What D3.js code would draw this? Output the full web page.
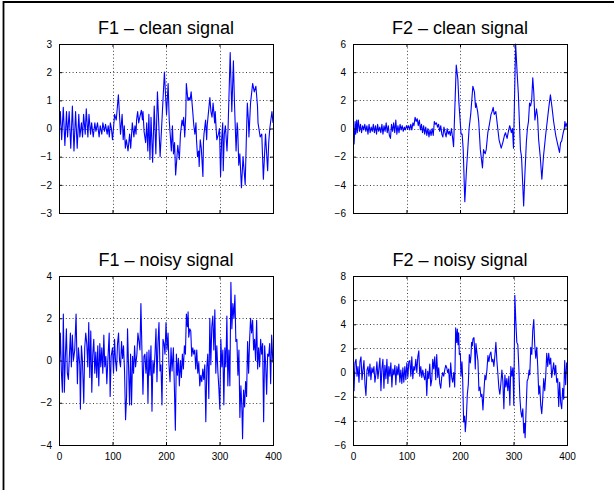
<!DOCTYPE html>
<html>
<head>
<meta charset="utf-8">
<script src="https://cdn.jsdelivr.net/npm/d3@7"></script>
<style>
html,body{margin:0;padding:0;background:#fff;}
svg{display:block;}
text{font-family:"Liberation Sans",Arial,Helvetica,sans-serif;fill:#000;}
</style>
</head>
<body>
<svg id="fig" width="614" height="490"></svg>
<script>
// ---------- data (sample index, value) ----------
const xTicks = [0, 100, 200, 300, 400];
const titles = ["F1 \u2013 clean signal", "F2 \u2013 clean signal", "F1 \u2013 noisy signal", "F2 \u2013 noisy signal"];
const yDomains = [[-3, 3], [-6, 6], [-4, 4], [-6, 8]];
const yTickSets = [[-3,-2,-1,0,1,2,3], [-6,-4,-2,0,2,4,6], [-4,-2,0,2,4], [-6,-4,-2,0,2,4,6,8]];

const f1Clean = [[0,-0.3],[2.5,0.6],[5,-0.4],[8,0.75],[11,-0.6],[14,0.6],[16,-0.3],[19,0.6],[22,-0.7],[25,0.8],[28,-0.8],[31,0.6],[34,-0.7],[37,0.5],[39,-0.3],[42,0.2],[44,-0.3],[46,0.5],[49,-0.2],[51,0.7],[54,-0.3],[56,0.5],[59,-0.2],[61,0.2],[64,-0.3],[67,0.2],[69,-0.1],[72,0.2],[75,-0.3],[77,0.1],[80,-0.2],[82,0.2],[85,-0.1],[87,0.15],[90,-0.2],[92,0.1],[94,-0.3],[96,0.2],[98,0.0],[100,-0.4],[104,0.5],[107,0.3],[111,1.2],[115,-0.2],[118,0.5],[120,-0.4],[122,0.1],[124,-0.7],[126,-0.4],[129,-0.8],[132,-0.2],[134,-0.7],[137,0.2],[140,-0.3],[142,0.1],[144,-0.2],[145,0.3],[147,0.6],[149,0.2],[151,0.4],[154,0.65],[156,0.3],[157,0.6],[159,-0.1],[162,-0.5],[164,0.2],[166,-0.8],[168,0.5],[170,-1.1],[172,0.4],[175,-1.2],[178,0.8],[181,-0.9],[184,1.3],[189,-1.0],[193,0.5],[197,2.0],[201,0.5],[204,1.6],[206,0.3],[210,-0.8],[212,0.1],[214,-0.9],[216,-0.5],[218,-1.65],[222,-0.6],[225,-1.1],[227,-0.2],[230,0.3],[232,0.1],[233,0.4],[235,-0.3],[237,0.5],[238,1.6],[241,1.0],[243,1.1],[245,1.0],[247,1.3],[250,0.6],[252,0.1],[254,-0.2],[256,0.2],[257,-0.4],[259,-1.0],[261,-0.8],[262,-1.35],[264,-0.4],[266,-0.7],[269,-1.7],[270,-0.5],[271,-0.2],[274,0.3],[276,-0.4],[277,0.1],[279,0.5],[282,1.1],[284,0.6],[286,0.4],[288,0.9],[291,0.2],[292,0.6],[294,-0.1],[295,-0.4],[298,-0.2],[300,0.0],[302,-1.7],[304,-0.4],[306,0.2],[307,-1.5],[309,-0.2],[311,0.1],[314,-0.8],[316,0.0],[320,2.7],[323,0.6],[326,2.4],[328,0.9],[331,-0.8],[333,0.2],[334,0.0],[336,-1.3],[338,-0.9],[341,-2.1],[344,-1.0],[348,-2.0],[350,-0.5],[352,0.9],[354,0.3],[355,-0.3],[358,0.9],[362,1.6],[365,1.3],[368,1.5],[371,0.8],[372,0.2],[376,-0.3],[379,-0.2],[382,-1.8],[386,-0.2],[390,-1.5],[392,-0.5],[394,0.0],[398,0.6],[400,0.2]];

const f2Clean = [[0,0.8],[2,-1.1],[4,0.5],[5,-0.4],[7,0.6],[8,-0.3],[10,0.6],[12,-0.2],[14,0.3],[16,-0.3],[18,0.2],[20,-0.1],[22,0.3],[24,-0.2],[26,0.2],[28,-0.4],[30,0.3],[32,-0.3],[34,0.1],[36,-0.2],[38,0.3],[40,-0.3],[42,0.2],[44,-0.4],[46,0.3],[48,-0.2],[50,0.1],[52,-0.3],[54,0.3],[56,-0.4],[58,0.2],[60,-0.2],[62,0.4],[64,-0.3],[66,0.2],[68,-0.5],[70,-0.7],[72,0.3],[74,-0.2],[76,0.4],[78,-0.3],[80,0.6],[82,-0.4],[84,0.2],[86,-0.3],[88,0.3],[90,-0.1],[92,0.2],[94,-0.2],[96,0.1],[98,-0.1],[100,0.2],[102,0.0],[104,0.2],[106,-0.1],[108,0.3],[110,-0.1],[112,0.4],[114,0.2],[116,0.8],[118,0.5],[120,0.7],[122,0.2],[124,0.6],[126,-0.1],[128,0.3],[130,-0.3],[132,0.2],[134,-0.4],[136,0.1],[138,-0.5],[140,0.0],[142,-0.6],[144,-0.1],[146,-0.5],[148,0.0],[150,-0.5],[152,0.5],[154,0.3],[156,0.4],[158,0.1],[160,0.3],[162,-0.2],[164,0.2],[166,-0.4],[168,-0.6],[170,0.1],[172,-0.3],[174,-0.6],[176,0.0],[178,-0.4],[180,-0.2],[182,-0.5],[184,0.0],[186,-0.6],[188,-1.3],[193,4.5],[196,3.5],[198,1.8],[202,-0.4],[204,-0.4],[206,-1.5],[209,-5.2],[212,-3.0],[217,0.0],[220,1.0],[224,3.0],[227,2.6],[229,1.5],[230,1.8],[233,1.2],[235,0.5],[238,-1.5],[242,-2.8],[244,-1.5],[247,-1.8],[249,-1.5],[252,-0.3],[255,0.3],[258,1.0],[260,1.2],[262,1.5],[264,1.0],[267,1.2],[273,-0.8],[277,-1.4],[280,-1.0],[283,-0.5],[285,-0.3],[288,-0.7],[291,-0.1],[293,0.2],[296,-0.3],[298,0.0],[300,-1.4],[304,6.0],[307,3.8],[309,2.5],[311,0.5],[313,-1.5],[315,-2.0],[319,-5.5],[321,-3.5],[324,-1.0],[326,0.0],[328,0.5],[330,1.8],[332,1.6],[334,2.0],[336,3.6],[338,2.5],[340,0.6],[343,1.4],[345,0.8],[347,-0.8],[350,-2.0],[353,-3.6],[356,-2.0],[360,-0.5],[363,0.5],[366,1.5],[367,1.8],[369,2.4],[372,1.5],[375,0.5],[379,-0.5],[383,-1.2],[386,-1.7],[388,-1.0],[390,-0.9],[393,-0.3],[395,0.0],[396,0.5],[398,0.1],[400,0.4]];

const f1Noisy = [[0,-0.9],[2.5,1.3],[4.4,-0.5],[6.3,-1.5],[8.1,2.2],[10,-1.5],[11.9,0.2],[13.8,1.5],[15.6,-0.6],[17.5,-0.9],[19.4,0.2],[21.3,1.3],[23.1,-0.3],[25,1.2],[26.9,0.0],[29.4,0.5],[31.9,2.2],[34.4,-1.1],[36.3,0.6],[38.8,-0.2],[40,-2.3],[41.9,0.7],[43.8,0.0],[46.3,-2.0],[48.1,0.6],[50,1.3],[51.9,0.8],[53.8,-0.3],[55.6,1.8],[57.5,-0.8],[59.4,1.4],[61.3,-1.5],[63.1,0.3],[65,1.0],[66.9,-0.6],[68.8,0.4],[70.6,-0.8],[72.5,0.7],[74.4,-1.2],[76.3,0.8],[78.1,-0.3],[80,0.6],[81.9,-0.6],[83.8,1.2],[85.6,-0.3],[87.5,0.2],[89.4,-1.1],[91.3,0.0],[93.8,1.3],[95.6,-1.7],[97.5,0.2],[100,0.6],[101.9,-0.6],[103.8,1.0],[105.6,0.0],[107.5,-0.5],[109.4,0.8],[111.3,1.3],[113.1,0.0],[115,-0.3],[116.9,0.9],[118.8,0.1],[120.6,0.7],[122.5,-0.5],[124.4,-2.8],[126.3,-1.7],[128.1,1.5],[130,-0.3],[131.9,-2.1],[133.8,0.3],[135.6,-2.1],[137.5,0.2],[139.4,-0.6],[141.3,0.7],[143.1,-0.3],[145.6,0.3],[147.5,1.3],[149.4,0.9],[151.3,0.5],[153.1,2.7],[155,0.5],[156.9,-1.6],[158.8,0.2],[160.6,0.3],[162.5,-0.6],[164.4,0.4],[166.3,-2.0],[168.1,0.5],[170,-0.7],[171.9,0.7],[173.8,-2.4],[175.6,0.0],[177.5,-0.6],[179.4,0.3],[181.3,1.5],[183.1,-1.0],[185,0.8],[186.9,1.8],[188.8,-0.5],[190.6,-0.2],[192.5,-2.1],[194.4,1.0],[196.3,0.8],[198.1,0.3],[200,1.8],[201.9,0.5],[203.8,1.3],[205.6,-0.2],[207.5,-1.0],[209.4,0.6],[211.3,-0.5],[213.8,0.6],[215.6,-1.2],[217.5,-3.3],[219.4,0.3],[221.3,-0.7],[223.1,0.1],[225,-1.2],[226.9,0.0],[228.8,-0.8],[230.6,0.3],[232.5,-0.4],[234.4,0.7],[236.3,0.3],[238.1,2.2],[240,1.6],[241.3,2.3],[242.5,1.1],[244.4,1.5],[246.3,1.4],[248.1,0.2],[250,0.6],[251.9,0.3],[253.8,0.5],[255.6,-0.4],[257.5,0.5],[259.4,-0.6],[261.3,-0.1],[263.1,-1.2],[265,-0.7],[266.9,-1.0],[268.8,-0.4],[270.6,-0.9],[272.5,-0.2],[274.4,-2.9],[276.3,-0.3],[278.1,0.3],[280,-1.8],[281.9,2.0],[283.8,-0.2],[285.6,1.6],[287.5,2.1],[289.4,0.5],[291.3,2.4],[293.1,-0.6],[295,0.7],[296.9,-0.5],[298.8,-1.3],[300.6,-2.3],[302.5,1.0],[304.4,-0.3],[306.3,0.5],[308.1,-2.1],[310,0.6],[311.9,-0.3],[313.8,2.1],[315.6,-1.2],[317.5,0.5],[319.4,-1.2],[321.3,3.7],[323.1,1.5],[325,2.7],[326.9,2.0],[328.8,3.1],[330.6,0.9],[332.5,1.0],[334.4,-0.7],[336.3,0.5],[338.1,-2.7],[340,-1.2],[341.9,-2.3],[343.1,-3.7],[345,-1.4],[346.9,-2.2],[348.8,-1.0],[350.6,-1.7],[352.5,0.9],[354.4,-0.6],[356.3,1.0],[358.1,2.0],[360,1.3],[361.9,1.9],[363.8,0.5],[365.6,1.0],[367.5,0.0],[369.4,1.9],[371.3,-0.4],[373.1,0.6],[375,-0.3],[376.9,1.0],[378.8,0.3],[380.6,0.8],[382.5,-2.9],[384.4,0.7],[386.3,-0.2],[388.1,-1.6],[390,0.3],[391.9,0.2],[393.8,0.8],[395.6,-1.1],[397.5,1.2],[399.4,0.1],[400,-0.1]];

const f2Noisy = [[0,1.9],[1.9,-1.5],[3.7,0.8],[5.6,1.1],[7.5,-0.3],[9.3,0.5],[11.2,-0.8],[13,0.9],[14.9,1.3],[16.8,-0.6],[18.6,0.2],[20.5,1.0],[22.4,-1.0],[24.2,-1.9],[26.1,0.2],[28,0.5],[29.8,-0.3],[31.7,0.7],[33.5,-0.6],[35.4,0.4],[37.3,0.0],[39.1,0.5],[41,-0.8],[42.9,-0.1],[44.7,0.9],[46.6,-0.5],[48.4,0.3],[50.3,1.2],[52.2,-1.5],[54,0.3],[55.9,1.1],[57.8,-1.3],[59.6,0.6],[61.5,-0.5],[63.4,1.1],[65.2,-0.9],[67.1,0.5],[68.9,-0.3],[70.8,0.8],[72.7,-1.2],[74.5,0.3],[76.4,-0.2],[78.3,0.6],[80.1,-1.0],[82,0.5],[83.9,-0.2],[85.7,0.7],[87.6,-0.8],[89.4,0.2],[91.3,-0.9],[93.2,0.4],[95,-0.8],[96.9,0.5],[98.8,-0.6],[100.6,0.8],[102.5,-0.4],[104.3,0.9],[106.2,1.0],[108.1,-0.3],[109.9,1.3],[111.8,-0.5],[113.7,0.5],[115.5,0.2],[117.4,1.1],[119.3,0.0],[121.1,1.3],[123,1.8],[124.8,-0.3],[126.7,0.5],[128.6,-0.4],[130.4,0.2],[132.3,-0.3],[134.2,-0.6],[136,0.3],[137.9,-1.9],[139.7,0.1],[141.6,-0.5],[143.5,0.7],[145.3,-1.1],[147.2,-0.6],[149.1,1.1],[150.9,0.3],[152.8,1.3],[154.7,-0.6],[156.5,1.5],[158.4,-0.4],[160.2,0.4],[162.1,-0.9],[164,-1.3],[165.8,-0.4],[167.7,0.0],[169.6,-0.3],[171.4,0.2],[173.3,0.6],[175.2,0.4],[177,0.0],[178.9,0.3],[180.7,-1.2],[182.6,0.8],[184.5,-0.4],[186.3,-0.8],[188.2,0.0],[190.1,-1.2],[191.9,3.7],[193.8,2.5],[195,3.6],[196.3,2.3],[197.5,3.3],[198.8,1.5],[200.6,1.6],[201.9,-0.3],[203.7,0.9],[205,-0.5],[206.8,-4.1],[208.7,-3.6],[209.9,-4.9],[211.8,-3.8],[213.7,-1.8],[215.5,-1.0],[217.4,1.5],[219.3,0.8],[220.5,1.4],[221.7,2.5],[223,2.2],[224.2,2.8],[226.1,2.9],[227.3,1.9],[228.6,0.3],[229.8,2.4],[231.7,1.6],[233.5,1.0],[235.4,-1.5],[237.3,-1.2],[239.1,-2.0],[241,-1.8],[242.9,-3.1],[244.7,-1.6],[246.6,-0.2],[248.4,-0.6],[250.3,0.2],[252.2,1.4],[254,0.9],[255.9,1.5],[257.8,1.7],[259.6,0.9],[261.5,1.1],[263.3,0.5],[265.2,1.4],[267.1,2.5],[268.9,1.0],[270.8,-0.1],[272.7,-1.3],[274.5,-1.8],[276.4,-0.9],[278.3,0.2],[280.1,-0.7],[282,-3.0],[283.9,-0.2],[285.7,-1.2],[287.6,-0.5],[289.4,-1.5],[291.3,-0.3],[293.2,-2.7],[295,0.5],[296.9,-0.3],[298.8,0.4],[300.6,-2.7],[302.5,6.4],[304.3,4.3],[306.2,2.5],[308.1,2.3],[309.9,0.5],[311.8,-2.0],[313.7,-3.2],[315.5,-3.7],[317.4,-3.0],[319.2,-5.0],[320.5,-4.2],[321.7,-5.4],[323.6,-3.0],[325.5,-0.7],[327.3,-0.5],[329.2,0.2],[330.4,-0.2],[332.3,2.1],[334.2,1.5],[336,3.5],[337.9,4.4],[339.7,2.3],[341.6,1.2],[343.5,2.1],[345.3,0.5],[347.2,-1.8],[349.1,-1.1],[350.9,-2.7],[352.8,-3.4],[354.6,-2.2],[356.5,-0.5],[358.4,-1.5],[360.2,-0.3],[362.1,1.6],[364,0.5],[365.8,1.6],[367.7,0.7],[369.5,1.2],[371.4,-0.4],[373.3,0.2],[375.1,0.8],[377,-0.2],[378.9,0.6],[380.7,-0.8],[382.6,-0.5],[384.5,-2.8],[386.3,-0.8],[388.2,-2.5],[390.1,-3.0],[391.9,-1.3],[393.8,-2.2],[395.7,1.0],[397.5,-1.0],[399.4,0.8],[400,0.5]];

const seriesList = [f1Clean, f2Clean, f1Noisy, f2Noisy];

// ---------- layout ----------
const svg = d3.select("#fig");
// outer figure frame (top and left edges visible)
svg.append("line").attr("x1", 3).attr("x2", 614).attr("y1", 2).attr("y2", 2)
  .attr("stroke", "#000").attr("stroke-width", 2);
svg.append("line").attr("x1", 3.5).attr("x2", 3.5).attr("y1", 1).attr("y2", 490)
  .attr("stroke", "#000").attr("stroke-width", 1.8);

const cols = [[59, 273], [353, 567]];
const rows = [[44, 213], [276, 445]];

const fmt = v => (v < 0 ? "\u2212" + Math.abs(v) : String(v));

seriesList.forEach((data, i) => {
  const c = cols[i % 2], r = rows[Math.floor(i / 2)];
  const x = d3.scaleLinear().domain([0, 400]).range([c[0], c[1]]);
  const y = d3.scaleLinear().domain(yDomains[i]).range([r[1], r[0]]);
  const g = svg.append("g");
  const yt = yTickSets[i];

  // grid (dotted)
  const gridColor = "#000";
  g.selectAll(".gx").data(xTicks.slice(1, -1)).enter().append("line")
    .attr("x1", d => Math.round(x(d)) + 0.5).attr("x2", d => Math.round(x(d)) + 0.5)
    .attr("y1", r[0]).attr("y2", r[1])
    .attr("stroke", gridColor).attr("stroke-width", 1).attr("stroke-dasharray", "1 2.4").attr("opacity", 0.75);
  g.selectAll(".gy").data(yt.slice(1, -1)).enter().append("line")
    .attr("y1", d => Math.round(y(d)) + 0.5).attr("y2", d => Math.round(y(d)) + 0.5)
    .attr("x1", c[0]).attr("x2", c[1])
    .attr("stroke", gridColor).attr("stroke-width", 1).attr("stroke-dasharray", "1 2.4").attr("opacity", 0.75);

  // clip + signal
  const clipId = "clip" + i;
  svg.append("clipPath").attr("id", clipId).append("rect")
    .attr("x", c[0]).attr("y", r[0] - 1).attr("width", c[1] - c[0]).attr("height", r[1] - r[0] + 2);
  const line = d3.line().x(d => x(d[0])).y(d => y(d[1]));
  g.append("path").datum(data).attr("d", line)
    .attr("fill", "none").attr("stroke", "#0000ff").attr("stroke-width", 1.1)
    .attr("stroke-linejoin", "round").attr("clip-path", "url(#" + clipId + ")");

  // axes via d3 axis (inward ticks), box on
  const tickLen = 3;
  const axL = d3.axisLeft(y).tickValues(yt).tickSize(-tickLen).tickPadding(4 + tickLen).tickFormat(fmt);
  const axR = d3.axisRight(y).tickValues(yt).tickSize(-tickLen).tickFormat("");
  const axB = d3.axisBottom(x).tickValues(xTicks).tickSize(-tickLen).tickPadding(5 + tickLen)
    .tickFormat(i >= 2 ? d3.format("d") : "");
  const axT = d3.axisTop(x).tickValues(xTicks).tickSize(-tickLen).tickFormat("");

  const styleAxis = sel => {
    sel.select(".domain").remove();
    sel.selectAll("line").attr("stroke", "#000");
    sel.selectAll("text").attr("font-family", "'Liberation Sans', Arial, sans-serif")
      .attr("font-size", 10).attr("fill", "#000");
  };
  g.append("g").attr("transform", `translate(${c[0]},0)`).call(axL).call(styleAxis);
  g.append("g").attr("transform", `translate(${c[1]},0)`).call(axR).call(styleAxis);
  g.append("g").attr("transform", `translate(0,${r[1]})`).call(axB).call(styleAxis);
  g.append("g").attr("transform", `translate(0,${r[0]})`).call(axT).call(styleAxis);

  // box
  g.append("rect").attr("x", c[0] + 0.5).attr("y", r[0] + 0.5)
    .attr("width", c[1] - c[0]).attr("height", r[1] - r[0])
    .attr("fill", "none").attr("stroke", "#000").attr("stroke-width", 1);

  // title
  g.append("text").attr("x", (c[0] + c[1]) / 2).attr("y", r[0] - 10)
    .attr("text-anchor", "middle").attr("font-size", 18).text(titles[i]);
});
</script>
</body>
</html>
